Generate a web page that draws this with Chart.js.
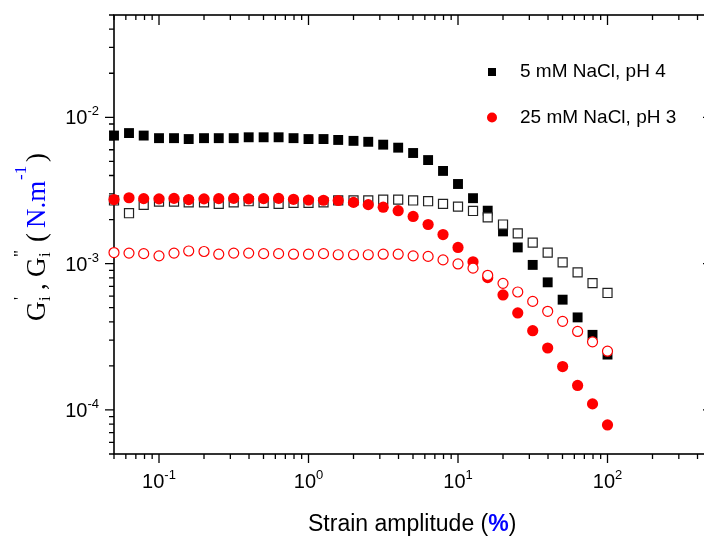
<!DOCTYPE html>
<html>
<head>
<meta charset="utf-8">
<script src="https://cdn.jsdelivr.net/npm/chart.js@4"></script>
<style>
  body { margin: 0; background: #fff; }
  #wrap { width: 704px; height: 536px; overflow: hidden; }
</style>
</head>
<body>
<div id="wrap"><canvas id="strainChart" width="720" height="536"></canvas></div>
<script>
// strain amplitude (%), 10 points per decade
const strainPct = [0.05, 0.063, 0.079, 0.1, 0.126, 0.158, 0.2, 0.251, 0.316, 0.398,
  0.501, 0.631, 0.794, 1, 1.26, 1.58, 2, 2.51, 3.16, 3.98,
  5.01, 6.31, 7.94, 10, 12.6, 15.8, 20, 25.1, 31.6, 39.8,
  50.1, 63.1, 79.4, 100];

// 5 mM NaCl, pH 4
const gPrime5 = [0.0075, 0.0078, 0.0075, 0.0072, 0.0072, 0.0071, 0.0072, 0.0072, 0.0072, 0.0073,
  0.0073, 0.0073, 0.0072, 0.0071, 0.0071, 0.0070, 0.0069, 0.0068, 0.0065, 0.0062,
  0.0057, 0.0051, 0.0043, 0.0035, 0.0028, 0.0023, 0.00166, 0.00129, 0.00098, 0.000745,
  0.000567, 0.000429, 0.000326, 0.000239];
const gDouble5 = [0.0027, 0.00221, 0.00252, 0.00265, 0.00265, 0.00262, 0.00262, 0.00256, 0.00262, 0.00267,
  0.0026, 0.00256, 0.0026, 0.0026, 0.00262, 0.0027, 0.0027, 0.0027, 0.00274, 0.00274,
  0.0027, 0.00267, 0.00256, 0.00245, 0.00229, 0.00207, 0.00185, 0.00161, 0.00139, 0.00119,
  0.00102, 0.000872, 0.000735, 0.00063];

// 25 mM NaCl, pH 3
const gPrime25 = [0.00274, 0.00282, 0.00278, 0.00277, 0.00279, 0.00274, 0.00277, 0.00278, 0.00279, 0.00277,
  0.00278, 0.00279, 0.00275, 0.00272, 0.00271, 0.0027, 0.00262, 0.00253, 0.00243, 0.0023,
  0.0021, 0.00185, 0.00158, 0.00129, 0.00103, 0.000802, 0.000611, 0.00046, 0.000348, 0.000265,
  0.000198, 0.000147, 0.00011, 0.000079];
const gDouble25 = [0.00119, 0.00118, 0.00117, 0.00113, 0.00118, 0.00122, 0.00121, 0.00116, 0.00118, 0.00118,
  0.00117, 0.00117, 0.00116, 0.00116, 0.00117, 0.00115, 0.00115, 0.00115, 0.00116, 0.00116,
  0.00113, 0.00112, 0.00106, 0.000995, 0.000931, 0.000832, 0.000733, 0.00064, 0.000552, 0.000472,
  0.000403, 0.000344, 0.000292, 0.000252];

const legendLabels = ["5 mM NaCl, pH 4", "25 mM NaCl, pH 3"];

const xMajor = [0.1, 1, 10, 100];
const xExp = ["-1", "0", "1", "2"];
const yMajor = [1e-4, 1e-3, 1e-2];
const yExp = ["-4", "-3", "-2"];

const sans = '"Liberation Sans", Arial, sans-serif';
const serif = '"Liberation Serif", "Times New Roman", serif';

function toPoints(ys) {
    return strainPct.map((x, i) => ({ x: x, y: ys[i] }));
}

// log ticks 1..9 per decade inside [min, max]
function logTicks(min, max) {
    const out = [];
    for (let e = Math.floor(Math.log10(min)); e <= Math.ceil(Math.log10(max)); e++) {
        for (let m = 1; m <= 9; m++) {
            const v = m * Math.pow(10, e);
            if (v >= min * 0.999 && v <= max * 1.001) out.push({ v: v, major: m === 1 });
        }
    }
    return out;
}

function drawPow(ctx, x, y, exp, align) {
    ctx.font = '20px ' + sans;
    const wb = ctx.measureText('10').width;
    ctx.font = '13px ' + sans;
    const we = ctx.measureText(exp).width;
    const left = align === 'right' ? x - wb - we : x - (wb + we) / 2;
    ctx.textAlign = 'left';
    ctx.textBaseline = 'alphabetic';
    ctx.font = '20px ' + sans;
    ctx.fillText('10', left, y);
    ctx.font = '13px ' + sans;
    ctx.fillText(exp, left + wb, y - 9);
}

const axesPlugin = {
    id: 'axesPlugin',
    beforeDatasetsDraw(chart) {
        const ctx = chart.ctx;
        const a = chart.chartArea;
        const xs = chart.scales.x;
        const ys = chart.scales.y;
        ctx.save();
        ctx.strokeStyle = '#000';
        ctx.fillStyle = '#000';
        ctx.lineWidth = 1.6;
        ctx.strokeRect(a.left, a.top, a.right - a.left, a.bottom - a.top);

        ctx.lineWidth = 1.3;
        ctx.beginPath();
        logTicks(xs.min, xs.max).forEach(t => {
            const px = xs.getPixelForValue(t.v);
            ctx.moveTo(px, a.bottom);
            ctx.lineTo(px, a.bottom + (t.major ? 9 : 5));
            ctx.moveTo(px, a.top);
            ctx.lineTo(px, a.top + (t.major ? 10 : 5));
        });
        logTicks(ys.min, ys.max).forEach(t => {
            const py = ys.getPixelForValue(t.v);
            ctx.moveTo(a.left - (t.major ? 9 : 5), py);
            ctx.lineTo(a.left, py);
            ctx.moveTo(a.right - (t.major ? 9 : 5), py);
            ctx.lineTo(a.right, py);
        });
        ctx.stroke();

        xMajor.forEach((v, i) => drawPow(ctx, xs.getPixelForValue(v), a.bottom + 34, xExp[i], 'center'));
        yMajor.forEach((v, i) => drawPow(ctx, a.left - 15, ys.getPixelForValue(v) + 7, yExp[i], 'right'));

        // x title
        let x = 308;
        const yb = 531;
        ctx.textAlign = 'left';
        ctx.font = '23px ' + sans;
        ctx.fillText('Strain amplitude (', x, yb);
        x += ctx.measureText('Strain amplitude (').width;
        ctx.font = 'bold 23px ' + sans;
        ctx.fillStyle = '#0000ff';
        ctx.fillText('%', x, yb);
        x += ctx.measureText('%').width;
        ctx.font = '23px ' + sans;
        ctx.fillStyle = '#000';
        ctx.fillText(')', x, yb);

        // y title, rotated
        ctx.translate(45, 321);
        ctx.rotate(-Math.PI / 2);
        const runs = [
            ['G', 0, 0, 27, '#000'],
            ['i', 20, 5, 17, '#000'],
            ["'", 21, -20, 17, '#000'],
            [',', 31, 0, 27, '#000'],
            ['G', 44, 0, 27, '#000'],
            ['i', 64, 5, 17, '#000'],
            ['"', 64, -20, 17, '#000'],
            ['(', 79, 0, 27, '#000'],
            ['N.m', 93, 0, 27, '#0000ff'],
            ['-1', 141, -19, 17, '#0000ff'],
            [')', 159, 0, 27, '#000']
        ];
        runs.forEach(r => {
            ctx.font = r[3] + 'px ' + serif;
            ctx.fillStyle = r[4];
            ctx.fillText(r[0], r[1], r[2]);
        });
        ctx.restore();
    },
    afterDatasetsDraw(chart) {
        const ctx = chart.ctx;
        ctx.save();
        ctx.fillStyle = '#000';
        ctx.fillRect(488, 68, 8, 8);
        ctx.fillStyle = '#ff0000';
        ctx.beginPath();
        ctx.arc(492, 117.5, 5, 0, Math.PI * 2);
        ctx.fill();
        ctx.fillStyle = '#000';
        ctx.font = '19px ' + sans;
        ctx.textAlign = 'left';
        ctx.textBaseline = 'middle';
        ctx.fillText(legendLabels[0], 520, 72);
        ctx.fillText(legendLabels[1], 520, 118);
        ctx.restore();
    }
};

new Chart("strainChart", {
    type: "scatter",
    data: {
        datasets: [
            {
                label: "G'' 25 mM",
                data: toPoints(gDouble25),
                pointStyle: 'circle',
                radius: 5,
                backgroundColor: '#fff',
                borderColor: '#ff0000',
                borderWidth: 1.2,
                order: 1,
                clip: false
            },
            {
                label: "G' 25 mM",
                data: toPoints(gPrime25),
                pointStyle: 'circle',
                radius: 5.6,
                backgroundColor: '#ff0000',
                borderColor: '#ff0000',
                borderWidth: 0,
                order: 2,
                clip: false
            },
            {
                label: "G'' 5 mM",
                data: toPoints(gDouble5),
                pointStyle: 'rect',
                radius: 6.4,
                backgroundColor: '#fff',
                borderColor: '#222',
                borderWidth: 1.2,
                order: 3,
                clip: false
            },
            {
                label: "G' 5 mM",
                data: toPoints(gPrime5),
                pointStyle: 'rect',
                radius: 7,
                backgroundColor: '#000',
                borderColor: '#000',
                borderWidth: 0,
                order: 4,
                clip: false
            }
        ]
    },
    options: {
        responsive: false,
        animation: false,
        layout: {
            padding: { left: 114, top: 15, right: 8, bottom: 82 }
        },
        scales: {
            x: { type: 'logarithmic', min: 0.05, max: 500, display: false },
            y: { type: 'logarithmic', min: 5e-5, max: 5e-2, display: false }
        },
        plugins: {
            legend: { display: false },
            tooltip: { enabled: false }
        }
    },
    plugins: [axesPlugin]
});
</script>
</body>
</html>
